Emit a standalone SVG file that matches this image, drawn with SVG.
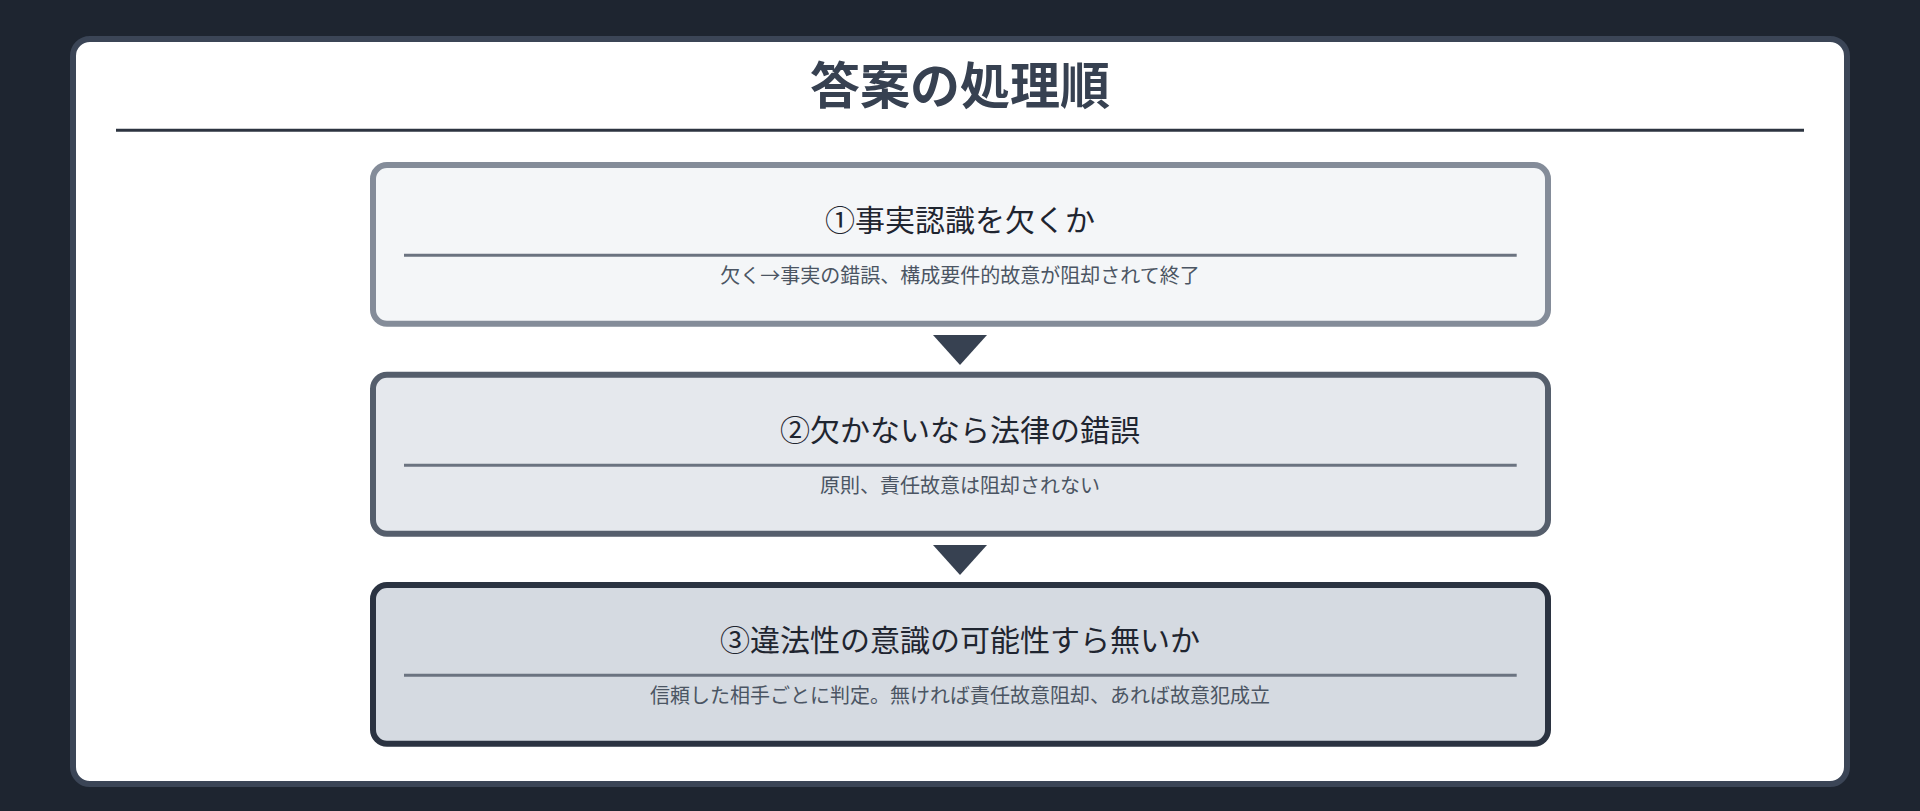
<svg xmlns="http://www.w3.org/2000/svg" width="1920" height="811" viewBox="0 0 1920 811">
  <defs>
    <style>
      .bg { fill: #1e2530; }
      .panel { fill: #ffffff; stroke: #3b4556; stroke-width: 6; }
      .title { font-family: "Noto Sans CJK JP", "Noto Sans", sans-serif; font-size: 50px; font-weight: 700; fill: #374151; text-anchor: middle; }
      .rule { stroke: #2d3440; stroke-width: 3; }
      .box { stroke-width: 6; }
      .b1 { fill: #f4f6f8; stroke: #848c99; }
      .b2 { fill: #e5e8ed; stroke: #555e6c; }
      .b3 { fill: #d5dae1; stroke: #2b3341; }
      .div { stroke: #6b7380; stroke-width: 3; }
      .head { font-family: "Noto Sans CJK JP", "Noto Sans", sans-serif; font-size: 30px; fill: #1f2530; text-anchor: middle; }
      .sub { font-family: "Noto Sans CJK JP", "Noto Sans", sans-serif; font-size: 20px; fill: #4b5563; text-anchor: middle; }
      .arrow { fill: #374151; }
    </style>
  </defs>
  <rect class="bg" x="0" y="0" width="1920" height="811"/>
  <rect class="panel" x="73" y="39" width="1774" height="745" rx="17" ry="17"/>
  <g id="title">
    <text class="title" x="960" y="104">答案の処理順</text>
    <line class="rule" x1="116" y1="130.3" x2="1804" y2="130.3"/>
  </g>
  <g id="connectors">
    <polygon class="arrow" points="933,335 987,335 960,365"/>
    <polygon class="arrow" points="933,545 987,545 960,575"/>
  </g>
  <g id="step1">
    <rect class="box b1" x="373" y="165" width="1175" height="158.7" rx="14" ry="14"/>
    <text class="head" x="960" y="231">①事実認識を欠くか</text>
    <line class="div" x1="404" y1="255.3" x2="1516.7" y2="255.3"/>
    <text class="sub" x="960" y="283">欠く→事実の錯誤、構成要件的故意が阻却されて終了</text>
  </g>
  <g id="step2">
    <rect class="box b2" x="373" y="374.7" width="1175" height="159" rx="14" ry="14"/>
    <text class="head" x="960" y="441">②欠かないなら法律の錯誤</text>
    <line class="div" x1="404" y1="465.3" x2="1516.7" y2="465.3"/>
    <text class="sub" x="960" y="493">原則、責任故意は阻却されない</text>
  </g>
  <g id="step3">
    <rect class="box b3" x="373" y="585" width="1175" height="158.7" rx="14" ry="14"/>
    <text class="head" x="960" y="651">③違法性の意識の可能性すら無いか</text>
    <line class="div" x1="404" y1="675.3" x2="1516.7" y2="675.3"/>
    <text class="sub" x="960" y="703">信頼した相手ごとに判定。無ければ責任故意阻却、あれば故意犯成立</text>
  </g>
</svg>
